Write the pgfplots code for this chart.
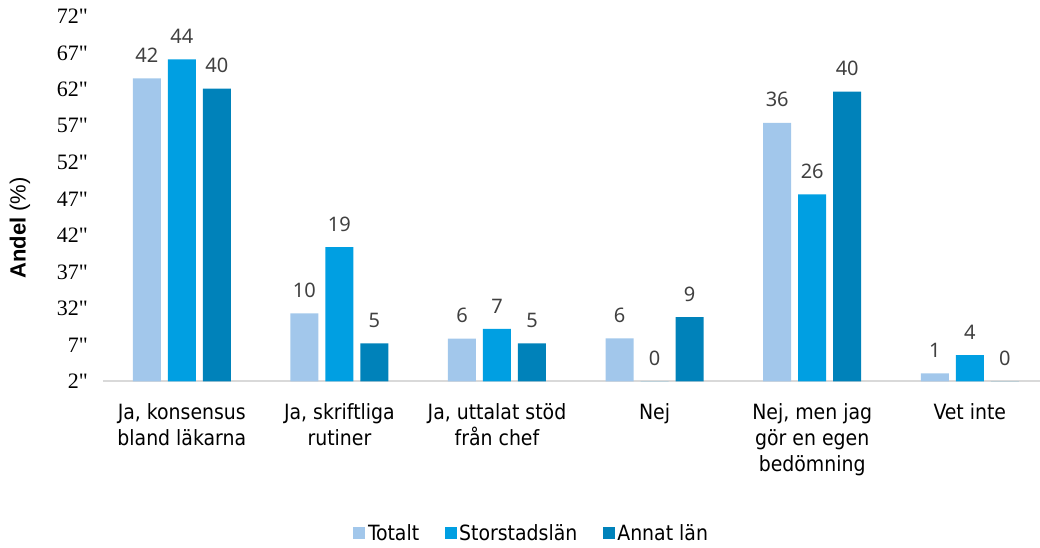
\documentclass[border=0pt]{standalone}
\usepackage{fontspec}
\usepackage{pgfplots}
\usepackage{pgfplotstable}
\pgfplotsset{compat=1.18}
\newfontfamily\catfont{DejaVu Sans Condensed}
\newfontfamily\numfont{Noto Sans}
\newfontfamily\tickfont{Liberation Serif}
\newfontfamily\arialfont{Liberation Sans}
\definecolor{cTot}{HTML}{A2C7EB}
\definecolor{cSto}{HTML}{009FE2}
\definecolor{cAnn}{HTML}{0082BA}
\definecolor{lab}{HTML}{404040}
\newcommand{\fl}{\rule{0pt}{12pt}}
\pgfplotstableread{
x tot totl sto stol ann annl
0 41.5 42 44.1 44 40.1 40
1 9.3 10 18.4 19 5.2 5
2 5.85 6 7.2 7 5.2 5
3 5.9 6 0 0 8.8 9
4 35.4 36 25.6 26 39.7 40
5 1.1 1 3.6 4 0 0
}\datatable
\begin{document}
\begin{tikzpicture}
\useasboundingbox (-77.25pt,-124.3pt) rectangle (702.75pt,286pt);
\begin{axis}[
  scale only axis,
  width=709.2pt, height=273.75pt,
  xmin=-0.5, xmax=5.5,
  ymin=0, ymax=50,
  ybar=5.25pt, bar width=21pt,
  axis lines*=left,
  y axis line style={draw=none},
  x axis line style={draw=black!15, line width=1.5pt},
  major tick length=0pt,
  xtick={0,1,2,3,4,5},
  xticklabels={{\fl Ja, konsensus\\bland läkarna},{\fl Ja, skriftliga\\rutiner},{\fl Ja, uttalat stöd\\från chef},{\fl Nej},{\fl Nej, men jag\\gör en egen\\bedömning},{\fl Vet inte}},
  xticklabel style={align=center, anchor=north, inner sep=0pt, yshift=-16.5pt, font={\catfont\fontsize{15.75}{19.5}\selectfont}},
  ytick={0,5,10,15,20,25,30,35,40,45,50},
  yticklabels={2",7",32",37",42",47",52",57",62",67",72"},
  yticklabel style={anchor=east, inner sep=0pt, xshift=-11.25pt, font={\tickfont\fontsize{16.5}{18}\selectfont}},
  ylabel={{\bfseries Andel} (\%)},
  ylabel style={at={(axis description cs:-0.0878,0.42)}, anchor=center, rotate=0, font={\arialfont\fontsize{16.5}{18}\selectfont}},
  clip=false,
  nodes near coords,
  point meta=explicit symbolic,
  every node near coord/.append style={anchor=south, inner sep=0pt, yshift=11.6pt, text=lab, font={\numfont\fontsize{15}{17}\selectfont}},
  legend columns=3,
  legend style={at={(axis description cs:0.4537,-0.416)}, anchor=center, draw=none, fill=none,
    font={\catfont\fontsize{15.75}{18}\selectfont},
    nodes={inner sep=2pt},
    /tikz/every even column/.append style={column sep=17pt}},
  legend image code/.code={\fill[#1,draw=none] (0pt,-4.5pt) rectangle (9pt,4.5pt);},
]
\addplot[fill=cTot, draw=none] table[x=x, y=tot, meta=totl] {\datatable};
\addplot[fill=cSto, draw=none] table[x=x, y=sto, meta=stol] {\datatable};
\addplot[fill=cAnn, draw=none] table[x=x, y=ann, meta=annl] {\datatable};
\legend{Totalt,Storstadslän,Annat län}
\end{axis}
\end{tikzpicture}
\end{document}
